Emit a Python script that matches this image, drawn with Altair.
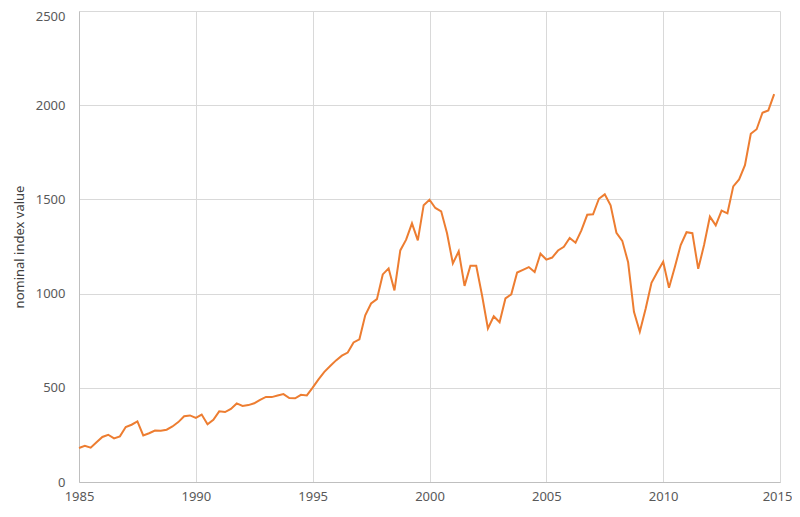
import altair as alt
import pandas as pd

start_year = 1985
quarter_values = [
    180.66, 191.85, 182.08, 211.28,
    238.90, 250.84, 231.32, 242.17,
    291.70, 304.00, 321.83, 247.08,
    258.89, 273.50, 271.91, 277.72,
    294.87, 317.98, 349.15, 353.40,
    339.94, 358.02, 306.05, 330.22,
    375.22, 371.16, 387.86, 417.09,
    403.69, 408.14, 417.80, 435.71,
    451.67, 450.53, 458.93, 466.45,
    445.77, 444.27, 462.69, 459.27,
    500.71, 544.75, 584.41, 615.93,
    645.50, 670.63, 687.31, 740.74,
    757.12, 885.14, 947.28, 970.43,
    1101.75, 1133.84, 1017.01, 1229.23,
    1286.37, 1372.71, 1282.71, 1469.25,
    1498.58, 1454.60, 1436.51, 1320.28,
    1160.33, 1224.42, 1040.94, 1148.08,
    1147.39, 989.82, 815.28, 879.82,
    848.18, 974.50, 995.97, 1111.92,
    1126.21, 1140.84, 1114.58, 1211.92,
    1180.59, 1191.33, 1228.81, 1248.29,
    1294.83, 1270.20, 1335.85, 1418.30,
    1420.86, 1503.35, 1526.75, 1468.36,
    1322.70, 1280.00, 1166.36, 903.25,
    797.87, 919.32, 1057.08, 1115.10,
    1169.43, 1030.71, 1141.20, 1257.64,
    1325.83, 1320.64, 1131.42, 1257.60,
    1408.47, 1362.16, 1440.67, 1426.19,
    1569.19, 1606.28, 1681.55, 1848.36,
    1872.34, 1960.23, 1972.29, 2058.90,
]
years = [start_year + i / 4 for i in range(len(quarter_values))]
x_ticks = [1985, 1990, 1995, 2000, 2005, 2010, 2015]
y_ticks = [0, 500, 1000, 1500, 2000, 2500]

df = pd.DataFrame({"year": years, "value": quarter_values})

font = "Noto Sans"
chart = (
    alt.Chart(df)
    .mark_line(color="#ED7D31", strokeWidth=2)
    .encode(
        x=alt.X(
            "year:Q",
            scale=alt.Scale(domain=[1985, 2015], nice=False, zero=False),
            axis=alt.Axis(
                values=x_ticks, format="d", title=None, tickSize=0,
                labelPadding=8, labelFontSize=13, labelColor="#595959",
                labelFont=font, domainColor="#bfbfbf", gridColor="#d9d9d9",
                labelFlush=False,
                labelOffset={"condition": {"test": "datum.value == 2015", "value": -3}, "value": 0},
            ),
        ),
        y=alt.Y(
            "value:Q",
            scale=alt.Scale(domain=[0, 2500], nice=False),
            axis=alt.Axis(
                values=y_ticks, format="d", title="nominal index value",
                tickSize=0, labelPadding=14, labelFontSize=13,
                labelColor="#595959", labelFont=font, titleFont=font,
                titleFontSize=13, titleFontWeight="normal",
                titleColor="#404040", titlePadding=9,
                domainColor="#bfbfbf", gridColor="#d9d9d9",
                labelFlush=False,
                labelOffset={"condition": {"test": "datum.value == 2500", "value": 5}, "value": 0},
            ),
        ),
    )
    .properties(
        width=701,
        height=471,
        autosize=alt.AutoSizeParams(type="none"),
        padding={"left": 71, "top": 3, "right": 12, "bottom": 27},
    )
    .configure_view(stroke=None)
)

chart.save("out.html", embed_options={"renderer": "svg", "actions": False})
